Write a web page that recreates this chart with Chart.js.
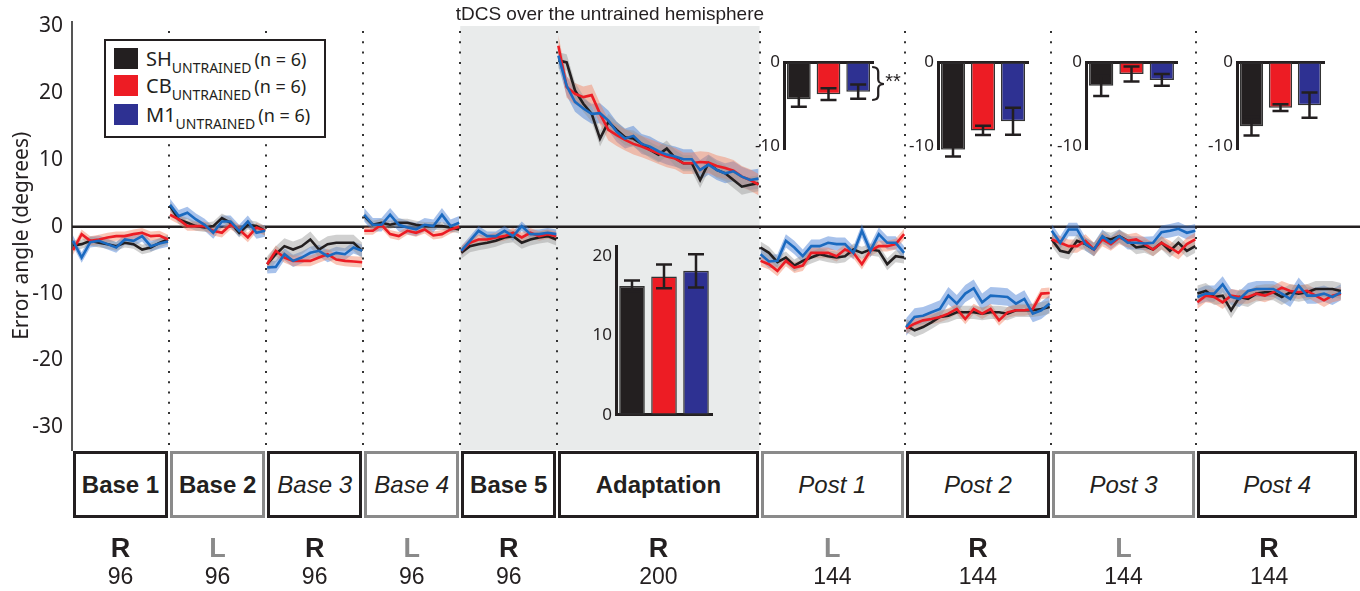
<!DOCTYPE html>
<html lang="en">
<head>
    <meta charset="UTF-8">
    <title>Error angle across blocks</title>
    <script src="https://cdn.jsdelivr.net/npm/chart.js"></script>
    <style>
        body { margin: 0; background: #fff; color: #231f20; font-family: "Noto Sans", sans-serif; }
        #wrap { position: relative; width: 1360px; height: 591px; overflow: hidden; }
        #main, .inset { position: absolute; }
        .box { position: absolute; box-sizing: border-box; border: 3px solid #231f20; background: #fff;
               display: flex; align-items: center; justify-content: center;
               font-family: "Liberation Sans", Arial, sans-serif; font-size: 24px; }
        .box.gray { border-color: #8a8a8a; }
        .box.bold { font-weight: bold; }
        .box.ital { font-style: italic; }
        .lbl { position: absolute; transform: translate(-50%, -50%); white-space: nowrap;
               font-family: "Liberation Sans", Arial, sans-serif; }
        .hand { font-weight: bold; font-size: 27px; }
        .count { font-size: 23px; }
        #legend { position: absolute; left: 104px; top: 39px; width: 222px; height: 99px; box-sizing: border-box;
                  border: 2px solid #231f20; background: #fff; font-size: 20px; }
        #legend .row { position: absolute; left: 8px; height: 22px; line-height: 22px; white-space: nowrap; }
        #legend .sw { display: inline-block; width: 24px; height: 21px; vertical-align: top; margin-right: 8px; }
        #legend sub { font-size: 14px; vertical-align: -7px; line-height: 0; }
        #legend .n { font-size: 18px; margin-left: 3px; }
    </style>
</head>
<body>
<div id="wrap">
    <canvas id="main" width="1360" height="591"></canvas>
    <canvas class="inset" id="insetAdapt"></canvas>
    <canvas class="inset" id="insetPost1"></canvas>
    <canvas class="inset" id="insetPost2"></canvas>
    <canvas class="inset" id="insetPost3"></canvas>
    <canvas class="inset" id="insetPost4"></canvas>
    <div id="legend">
        <div class="row" style="top:7px"><span class="sw" style="background:#231f20"></span>SH<sub>UNTRAINED</sub><span class="n">(n = 6)</span></div>
        <div class="row" style="top:34px"><span class="sw" style="background:#ed1c24"></span>CB<sub>UNTRAINED</sub><span class="n">(n = 6)</span></div>
        <div class="row" style="top:63px"><span class="sw" style="background:#2e3192"></span>M1<sub>UNTRAINED</sub><span class="n">(n = 6)</span></div>
    </div>
</div>

<script>
    // blocks of the protocol
    const blocks = ['Base 1', 'Base 2', 'Base 3', 'Base 4', 'Base 5', 'Adaptation', 'Post 1', 'Post 2', 'Post 3', 'Post 4'];
    const trials = [96, 96, 96, 96, 96, 200, 144, 144, 144, 144];
    const hands = ['R', 'L', 'R', 'L', 'R', 'R', 'L', 'R', 'L', 'R'];
    const boldBlocks = [true, true, false, false, true, true, false, false, false, false];
    const groups = ['SH', 'CB', 'M1'];
    const yTicks = [-30, -20, -10, 0, 10, 20, 30];

    // mean error angle per bin of 8 trials, one list per block
    const shError = [
        [-2.8, -2.6, -2.1, -2.4, -2.6, -2.9, -2.4, -2.6, -3.4, -3.1, -2.4, -1.9],
        [3.1, 1.1, 0.6, 0.1, -0.1, 0.1, 1.3, 0.6, -0.9, 0.3, 0.1, -0.6],
        [-5.6, -4.1, -2.9, -3.4, -2.9, -1.9, -3.4, -2.6, -2.4, -2.4, -2.4, -3.6],
        [1.6, 0.3, 0.6, 0.3, 0.6, 0.6, 0.3, 0.1, 0.1, 0.1, -0.1, -0.4],
        [-3.9, -2.9, -2.6, -2.4, -2.1, -1.6, -1.4, -2.4, -1.9, -1.6, -1.4, -1.9],
        [24.9, 24.6, 20.4, 18.4, 16.9, 13.2, 15.7, 14.5, 13.4, 13.2, 12.4, 11.5, 10.8, 11.7, 10.3, 9.5, 9.5, 7.0, 9.5, 8.5, 8.0, 7.0, 6.0, 6.3, 6.5],
        [-3.1, -3.9, -5.3, -4.6, -5.8, -5.1, -4.6, -4.1, -4.4, -4.6, -4.4, -3.4, -3.9, -3.4, -3.6, -5.6, -4.4, -4.6],
        [-14.8, -15.5, -15.0, -14.3, -13.5, -13.3, -12.8, -12.8, -12.8, -13.0, -12.8, -12.8, -13.0, -12.5, -12.5, -12.5, -12.3, -12.0],
        [-1.9, -3.6, -3.9, -2.1, -2.6, -3.4, -1.6, -1.9, -1.4, -2.1, -3.1, -2.9, -3.4, -2.4, -3.6, -2.4, -3.6, -2.9],
        [-10.0, -9.6, -10.5, -10.3, -12.5, -10.5, -10.8, -10.0, -9.8, -9.8, -10.5, -9.8, -10.0, -9.8, -9.3, -9.3, -9.3, -9.6]
    ];
    const cbError = [
        [-3.5, -1.1, -2.1, -1.9, -1.6, -1.4, -1.4, -1.1, -0.9, -1.4, -1.3, -1.9],
        [1.8, 1.1, 0.1, 0.1, 0.1, -0.6, -0.9, 0.3, -0.4, -1.6, -0.1, -0.6],
        [-5.6, -3.6, -4.6, -5.1, -5.1, -5.1, -4.6, -4.1, -4.9, -5.1, -5.2, -5.3],
        [-0.6, -0.6, 0.3, -1.1, -1.4, -0.6, -0.9, -0.4, -1.3, -1.1, -0.4, 0.0],
        [-3.6, -2.4, -1.9, -1.9, -1.6, -1.4, -0.9, -1.6, -0.9, -1.4, -1.1, -1.4],
        [27.1, 20.9, 19.9, 19.4, 19.7, 16.9, 14.5, 13.7, 13.0, 12.4, 12.0, 11.5, 11.0, 10.5, 10.2, 9.5, 9.5, 9.7, 9.6, 9.1, 8.8, 8.4, 7.5, 7.0, 6.3],
        [-5.1, -5.6, -6.6, -5.1, -6.1, -5.8, -3.9, -3.9, -3.9, -4.4, -3.4, -3.9, -5.6, -3.6, -2.9, -2.9, -2.6, -1.1],
        [-15.2, -14.5, -14.0, -13.8, -13.5, -13.0, -12.3, -13.8, -12.3, -13.0, -12.3, -14.0, -12.8, -12.5, -12.5, -12.3, -10.0, -9.9],
        [-1.9, -2.4, -2.9, -2.9, -2.1, -3.4, -1.9, -2.6, -1.6, -2.1, -1.9, -2.6, -3.4, -2.4, -3.1, -3.9, -2.6, -1.9],
        [-11.3, -10.3, -10.5, -11.3, -10.3, -10.5, -10.5, -10.0, -10.3, -9.8, -9.1, -9.6, -9.8, -9.6, -10.3, -11.0, -10.3, -10.0]
    ];
    const m1Error = [
        [-2.1, -4.6, -2.3, -2.1, -2.6, -3.1, -1.9, -2.1, -1.4, -2.9, -2.5, -2.2],
        [3.3, 1.6, 2.1, 1.1, 0.3, -0.9, 0.8, 0.8, -0.6, 0.8, -0.9, -0.6],
        [-6.1, -6.0, -4.1, -5.1, -4.6, -3.9, -3.6, -4.4, -3.9, -4.1, -3.1, -3.6],
        [1.8, 0.3, 0.3, 1.8, 0.3, -0.1, -0.4, 0.3, 0.1, 1.8, 0.1, 0.6],
        [-3.6, -2.1, -0.6, -1.4, -1.4, -0.6, -1.4, 0.1, -1.1, -1.1, -0.9, -1.1],
        [25.6, 21.1, 18.7, 17.7, 16.9, 17.0, 15.9, 14.2, 13.2, 13.6, 12.4, 12.0, 11.3, 10.8, 10.5, 10.1, 10.1, 8.5, 9.3, 8.5, 8.0, 8.3, 7.5, 7.0, 7.2],
        [-4.1, -5.2, -5.1, -2.1, -3.1, -4.4, -2.9, -2.9, -2.4, -2.6, -2.6, -3.9, -0.6, -3.6, -1.1, -2.4, -2.4, -3.9],
        [-15.0, -13.5, -13.3, -12.8, -12.3, -10.3, -11.5, -10.0, -9.2, -11.3, -10.3, -10.4, -10.5, -11.5, -10.8, -13.0, -12.5, -11.5],
        [-0.6, -2.4, -0.4, -0.4, -2.6, -3.4, -1.4, -2.4, -1.4, -2.4, -2.4, -2.5, -2.4, -0.8, -0.6, -0.3, -0.9, -0.6],
        [-10.5, -10.0, -10.0, -8.6, -10.5, -10.8, -9.6, -9.3, -9.3, -9.3, -10.0, -10.8, -8.8, -10.3, -10.3, -10.0, -10.5, -9.8]
    ];

    // SEM half-width of the shaded band, one per block
    const shSem = [0.7, 0.7, 1.2, 0.6, 0.9, 1.2, 0.9, 1.0, 1.0, 1.2];
    const cbSem = [0.7, 0.7, 0.8, 0.6, 0.7, 1.6, 0.8, 0.8, 1.0, 1.0];
    const m1Sem = [0.8, 0.9, 0.9, 1.0, 0.7, 1.5, 1.0, 1.3, 1.0, 1.2];

    // inset bars: SH, CB, M1
    const adaptBars = [16.2, 17.4, 18.1];
    const adaptBarsSem = [0.7, 1.5, 2.1];
    const post1Bars = [-4.4, -3.8, -3.5];
    const post1BarsSem = [0.9, 0.7, 0.85];
    const post2Bars = [-10.4, -8.1, -7.0];
    const post2BarsSem = [0.8, 0.55, 1.6];
    const post3Bars = [-2.8, -1.4, -2.1];
    const post3BarsSem = [1.2, 0.9, 0.7];
    const post4Bars = [-7.6, -5.4, -5.1];
    const post4BarsSem = [1.1, 0.4, 1.5];

    const blockStarts = [];
    let acc = 0;
    trials.forEach(n => { blockStarts.push(acc); acc += n; });

    const groupStyles = [
        { means: shError, sem: shSem, line: '#231f20', band: 'rgba(150,150,150,0.45)', order: 1.2 },
        { means: cbError, sem: cbSem, line: '#ec1c24', band: 'rgba(242,128,96,0.45)', order: 1.1 },
        { means: m1Error, sem: m1Sem, line: '#1b6ac0', band: 'rgba(62,120,210,0.45)', order: 1.0 }
    ];

    const datasets = [];
    groupStyles.forEach(g => {
        g.means.forEach((vals, b) => {
            const pts = off => vals.map((v, i) => ({
                x: blockStarts[b] + 1 + i * (trials[b] - 2) / (vals.length - 1),
                y: v + off
            }));
            datasets.push({ data: pts(-g.sem[b]), borderColor: 'transparent', borderWidth: 0, pointRadius: 0, fill: false, order: 5 });
            datasets.push({ data: pts(g.sem[b]), borderColor: 'transparent', borderWidth: 0, pointRadius: 0, fill: '-1', backgroundColor: g.band, order: 5 });
            datasets.push({ data: pts(0), borderColor: g.line, borderWidth: 2.6, pointRadius: 0, fill: false, order: g.order });
        });
    });

    const backdrop = {
        id: 'backdrop',
        beforeDraw(chart) {
            const { ctx, chartArea, scales: { x } } = chart;
            ctx.save();
            // tDCS period: Base 5 + Adaptation
            const s0 = x.getPixelForValue(blockStarts[4]);
            const s1 = x.getPixelForValue(blockStarts[6]);
            ctx.fillStyle = '#e9ebeb';
            ctx.fillRect(s0, 26, s1 - s0, chartArea.bottom - 26);
            // dotted block boundaries
            ctx.strokeStyle = '#333';
            ctx.lineWidth = 2;
            ctx.setLineDash([2, 8.3]);
            for (let b = 1; b < blockStarts.length; b++) {
                const px = Math.round(x.getPixelForValue(blockStarts[b]));
                ctx.beginPath();
                ctx.moveTo(px, 31);
                ctx.lineTo(px, chartArea.bottom);
                ctx.stroke();
            }
            ctx.restore();
        },
        beforeDatasetsDraw(chart) {
            const { ctx, chartArea, scales: { y } } = chart;
            const y0 = y.getPixelForValue(0);
            ctx.save();
            ctx.strokeStyle = '#231f20';
            ctx.lineWidth = 2.5;
            ctx.beginPath();
            ctx.moveTo(chartArea.left, y0);
            ctx.lineTo(chart.width, y0);
            ctx.stroke();
            ctx.restore();
        }
    };

    const mainChart = new Chart(document.getElementById('main'), {
        type: 'line',
        data: { datasets: datasets },
        options: {
            responsive: false,
            animation: false,
            layout: { padding: { top: 18, right: 10, bottom: 141, left: 0 } },
            plugins: { legend: { display: false }, tooltip: { enabled: false } },
            scales: {
                x: { type: 'linear', min: 0, max: 1264, display: false },
                y: {
                    min: -33.4,
                    max: 30.7,
                    afterBuildTicks: s => { s.ticks = yTicks.map(v => ({ value: v })); },
                    afterFit: s => { s.width = 72; },
                    grid: { display: false, drawTicks: false },
                    border: { display: true, color: '#555', width: 2 },
                    ticks: { color: '#231f20', font: { family: 'Noto Sans', size: 21 }, padding: 9 },
                    title: {
                        display: true, text: 'Error angle (degrees)', color: '#231f20',
                        font: { family: 'Noto Sans', size: 21 }, padding: { top: 9, bottom: 0 }
                    }
                }
            }
        },
        plugins: [backdrop]
    });

    // error bars on the inset bar charts
    const errorBars = {
        id: 'errorBars',
        afterDatasetsDraw(chart) {
            const { ctx, scales: { y } } = chart;
            const ds = chart.data.datasets[0];
            ctx.save();
            ctx.strokeStyle = '#231f20';
            ctx.lineWidth = 2.5;
            chart.getDatasetMeta(0).data.forEach((bar, i) => {
                const hi = y.getPixelForValue(ds.data[i] + ds.errors[i]);
                const lo = y.getPixelForValue(ds.data[i] - ds.errors[i]);
                ctx.beginPath();
                ctx.moveTo(bar.x, hi); ctx.lineTo(bar.x, lo);
                ctx.moveTo(bar.x - 8, hi); ctx.lineTo(bar.x + 8, hi);
                ctx.moveTo(bar.x - 8, lo); ctx.lineTo(bar.x + 8, lo);
                ctx.stroke();
            });
            ctx.restore();
        }
    };

    function makeInset(id, box, means, sems, yMin, yMax, ticks, xPos) {
        const cv = document.getElementById(id);
        cv.width = box.w; cv.height = box.h;
        cv.style.left = box.left + 'px'; cv.style.top = box.top + 'px';
        return new Chart(cv, {
            type: 'bar',
            data: {
                labels: groups,
                datasets: [{
                    data: means, errors: sems,
                    backgroundColor: ['#231f20', '#ed1c24', '#2e3192'],
                    borderColor: '#333', borderWidth: 1.5, borderSkipped: false,
                    barPercentage: 0.8, categoryPercentage: 1
                }]
            },
            options: {
                responsive: false,
                animation: false,
                layout: { padding: box.pad },
                plugins: { legend: { display: false }, tooltip: { enabled: false } },
                scales: {
                    x: {
                        position: xPos,
                        afterFit: s => { s.height = 0; },
                        grid: { display: false, drawTicks: false },
                        ticks: { display: false },
                        border: { color: '#231f20', width: 3 }
                    },
                    y: {
                        min: yMin, max: yMax,
                        afterBuildTicks: s => { s.ticks = ticks.map(v => ({ value: v })); },
                        afterFit: s => { s.width = 34; },
                        grid: { display: false, drawTicks: false },
                        border: { color: '#231f20', width: 3 },
                        ticks: { color: '#231f20', font: { family: 'Noto Sans', size: 17 }, padding: 4 }
                    }
                }
            },
            plugins: [errorBars]
        });
    }

    makeInset('insetAdapt', { left: 582, top: 232, w: 136, h: 197, pad: { top: 12, right: 6, bottom: 12, left: 0 } },
        adaptBars, adaptBarsSem, 0, 21.2, [0, 10, 20], 'bottom');
    const postPad = { top: 12, right: 6, bottom: 14, left: 0 };
    makeInset('insetPost1', { left: 750, top: 48, w: 129, h: 116, pad: postPad }, post1Bars, post1BarsSem, -10.4, 0, [-10, 0], 'top');
    makeInset('insetPost2', { left: 904, top: 48, w: 130, h: 116, pad: postPad }, post2Bars, post2BarsSem, -10.4, 0, [-10, 0], 'top');
    makeInset('insetPost3', { left: 1052, top: 48, w: 131, h: 116, pad: postPad }, post3Bars, post3BarsSem, -10.4, 0, [-10, 0], 'top');
    makeInset('insetPost4', { left: 1203, top: 48, w: 127, h: 116, pad: postPad }, post4Bars, post4BarsSem, -10.4, 0, [-10, 0], 'top');

    // block boxes, hand used and number of trials under the axis
    const wrap = document.getElementById('wrap');
    function addLabel(cls, text, x, y, style) {
        const el = document.createElement('div');
        el.className = cls;
        el.textContent = text;
        el.style.left = x + 'px';
        el.style.top = y + 'px';
        Object.assign(el.style, style || {});
        wrap.appendChild(el);
        return el;
    }
    const xs = mainChart.scales.x;
    blocks.forEach((name, b) => {
        const x0 = xs.getPixelForValue(blockStarts[b]);
        const xEnd = xs.getPixelForValue(blockStarts[b] + trials[b]);
        const x1 = b === blocks.length - 1 ? 1358 : xEnd;
        const cls = 'box' + (hands[b] === 'L' ? ' gray' : '') + (boldBlocks[b] ? ' bold' : ' ital');
        const box = addLabel(cls, name, x0 + 1, 451);
        box.style.width = (x1 - x0 - 2) + 'px';
        box.style.height = '67px';
        const cx = (x0 + xEnd) / 2;
        addLabel('lbl hand', hands[b], cx, 548, { color: hands[b] === 'L' ? '#8a8a8a' : '#231f20' });
        addLabel('lbl count', String(trials[b]), cx, 576);
    });

    // title over the tDCS period and significance mark on Post 1
    const tx = (xs.getPixelForValue(blockStarts[4]) + xs.getPixelForValue(blockStarts[6])) / 2;
    addLabel('lbl', 'tDCS over the untrained hemisphere', tx, 14, { fontSize: '19px', color: '#231f20' });
    addLabel('lbl', '}', 878, 79, { fontSize: '40px', fontFamily: 'Noto Sans', fontWeight: '300' });
    addLabel('lbl', '**', 893, 81, { fontSize: '20px' });
</script>
</body>
</html>
